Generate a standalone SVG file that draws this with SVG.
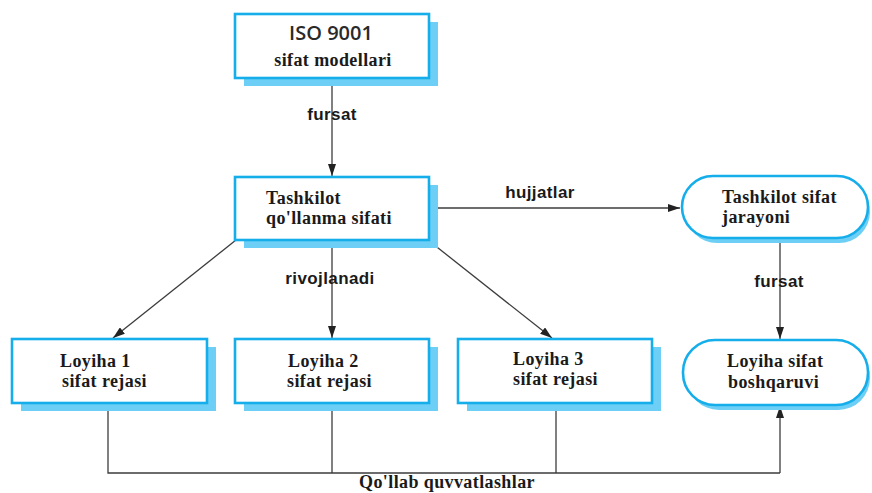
<svg xmlns="http://www.w3.org/2000/svg" width="872" height="493" viewBox="0 0 872 493">
  <style>
    .shadow { fill: #6dcff5; }
    .box { fill: #ffffff; stroke: #16aeea; stroke-width: 2.6; }
    .t { font-family: "Liberation Serif", "Times New Roman", serif; font-weight: bold; font-size: 18px; fill: #1a1a1a; letter-spacing: 0.4px; }
    .iso { font-family: "Open Sans", "Liberation Sans", sans-serif; font-weight: 600; font-size: 20px; fill: #2a2a2a; }
    .lbl { font-family: "Liberation Sans", Arial, sans-serif; font-weight: bold; font-size: 17px; fill: #1a1a1a; text-anchor: middle; letter-spacing: 0.4px; }
    .ln { fill: none; stroke: #3c3c3c; stroke-width: 1.3; }
  </style>
  <defs>
    <marker id="arrow" viewBox="0 0 12 8" refX="12" refY="4" markerWidth="12" markerHeight="8" markerUnits="userSpaceOnUse" orient="auto">
      <path d="M0,0 L12,4 L0,8 Z" fill="#222"/>
    </marker>
  </defs>

  <rect width="872" height="493" fill="#ffffff"/>

  <!-- connectors -->
  <g id="connectors">
    <line class="ln" x1="332" y1="78" x2="332" y2="176" marker-end="url(#arrow)"/>
    <line class="ln" x1="429" y1="208" x2="680" y2="208" marker-end="url(#arrow)"/>
    <line class="ln" x1="236" y1="240" x2="113" y2="338" marker-end="url(#arrow)"/>
    <line class="ln" x1="332" y1="240" x2="332" y2="338" marker-end="url(#arrow)"/>
    <line class="ln" x1="428" y1="240" x2="552" y2="338" marker-end="url(#arrow)"/>
    <line class="ln" x1="780" y1="238" x2="780" y2="339" marker-end="url(#arrow)"/>
    <polyline class="ln" points="108,403 108,473 780,473"/>
    <line class="ln" x1="332" y1="403" x2="332" y2="473"/>
    <line class="ln" x1="556" y1="403" x2="556" y2="473"/>
    <line class="ln" x1="780" y1="473" x2="780" y2="406" marker-end="url(#arrow)"/>
    <text class="lbl" x="332" y="120">fursat</text>
    <text class="lbl" x="540" y="198">hujjatlar</text>
    <text class="lbl" x="330" y="284">rivojlanadi</text>
    <text class="lbl" x="779" y="287">fursat</text>
    <text class="t" x="447" y="488" text-anchor="middle">Qo'llab quvvatlashlar</text>
  </g>

  <!-- ISO 9001 -->
  <g id="iso">
    <rect class="shadow" x="244" y="22" width="194" height="64"/>
    <rect class="box" x="235" y="14" width="194" height="64"/>
    <text class="iso" x="331" y="40" text-anchor="middle">ISO 9001</text>
    <text class="t" x="333" y="66" text-anchor="middle">sifat modellari</text>
  </g>

  <!-- Tashkilot qo'llanma sifati -->
  <g id="tashkilot">
    <rect class="shadow" x="244" y="185" width="194" height="63"/>
    <rect class="box" x="235" y="177" width="194" height="63"/>
    <text class="t" x="266" y="204">Tashkilot</text>
    <text class="t" x="266" y="224">qo'llanma sifati</text>
  </g>

  <!-- Tashkilot sifat jarayoni -->
  <g id="jarayoni">
    <rect class="shadow" x="686" y="181" width="184" height="62" rx="31"/>
    <rect class="box" x="682" y="176" width="186" height="62" rx="31"/>
    <text class="t" x="722" y="203">Tashkilot sifat</text>
    <text class="t" x="722" y="223">jarayoni</text>
  </g>

  <!-- Loyiha 1 -->
  <g id="loyiha1">
    <rect class="shadow" x="21" y="347" width="195" height="64"/>
    <rect class="box" x="12" y="339" width="195" height="64"/>
    <text class="t" x="60" y="367">Loyiha 1</text>
    <text class="t" x="62" y="387">sifat rejasi</text>
  </g>

  <!-- Loyiha 2 -->
  <g id="loyiha2">
    <rect class="shadow" x="244" y="347" width="194" height="64"/>
    <rect class="box" x="235" y="339" width="194" height="64"/>
    <text class="t" x="288" y="367">Loyiha 2</text>
    <text class="t" x="287" y="387">sifat rejasi</text>
  </g>

  <!-- Loyiha 3 -->
  <g id="loyiha3">
    <rect class="shadow" x="467" y="347" width="194" height="64"/>
    <rect class="box" x="458" y="339" width="194" height="64"/>
    <text class="t" x="513" y="365">Loyiha 3</text>
    <text class="t" x="513" y="385">sifat rejasi</text>
  </g>

  <!-- Loyiha sifat boshqaruvi -->
  <g id="boshqaruvi">
    <rect class="shadow" x="687" y="345" width="183" height="65" rx="32"/>
    <rect class="box" x="683" y="340" width="185" height="65" rx="32"/>
    <text class="t" x="727" y="367">Loyiha sifat</text>
    <text class="t" x="728" y="388">boshqaruvi</text>
  </g>
</svg>
